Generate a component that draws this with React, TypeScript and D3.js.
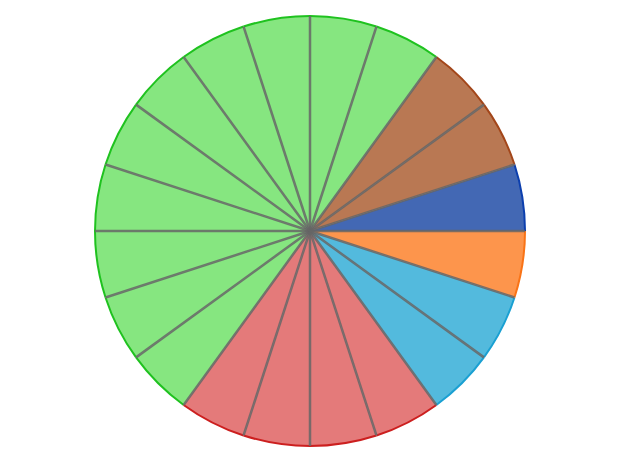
import React from "react";
import * as d3 from "d3";

const sliceGroups = [
  "blue", "brown", "brown",
  "green", "green", "green", "green", "green", "green", "green", "green", "green", "green",
  "red", "red", "red", "red",
  "cyan", "cyan", "orange",
];
const sliceValues = sliceGroups.map(() => 1);
const groupFill: Record<string, string> = {
  blue: "#4368b4", brown: "#b97853", green: "#86e680", red: "#e47a7a", cyan: "#53badd", orange: "#fd954c",
};
const groupStroke: Record<string, string> = {
  blue: "#0c3fae", brown: "#a3461a", green: "#1fc21f", red: "#cc1f1f", cyan: "#1aa0d2", orange: "#f97316",
};

export default function App() {
  const W = 640, H = 470, cx = 310, cy = 231, r = 215;
  // angles: start at east going counterclockwise (d3 angle: 0 = north, clockwise)
  const pie = d3.pie<number>().sort(null).startAngle(Math.PI / 2).endAngle(Math.PI / 2 - 2 * Math.PI);
  const arcs = pie(sliceValues);
  const arcGen = d3.arc<d3.PieArcDatum<number>>().innerRadius(0).outerRadius(r);
  return (
    <svg width={W} height={H} style={{ position: "absolute", left: 0, top: 0 }}>
      <g transform={`translate(${cx},${cy})`}>
        {arcs.map((a, i) => (
          <path key={"f" + i} d={arcGen(a) || ""} fill={groupFill[sliceGroups[i]]} stroke="none" />
        ))}
        {arcs.map((a, i) => {
          const s = a.startAngle, e = a.endAngle;
          const outer = d3.arc()({ innerRadius: r, outerRadius: r, startAngle: s, endAngle: e }) || "";
          return <path key={"o" + i} d={outer} fill="none" stroke={groupStroke[sliceGroups[i]]} strokeWidth={2} />;
        })}
        {arcs.map((a, i) => {
          const ang = a.startAngle;
          const x = r * Math.sin(ang), y = -r * Math.cos(ang);
          return <line key={"l" + i} x1={0} y1={0} x2={x} y2={y} stroke="#666" strokeOpacity={0.85} strokeWidth={2.5} />;
        })}
      </g>
    </svg>
  );
}
